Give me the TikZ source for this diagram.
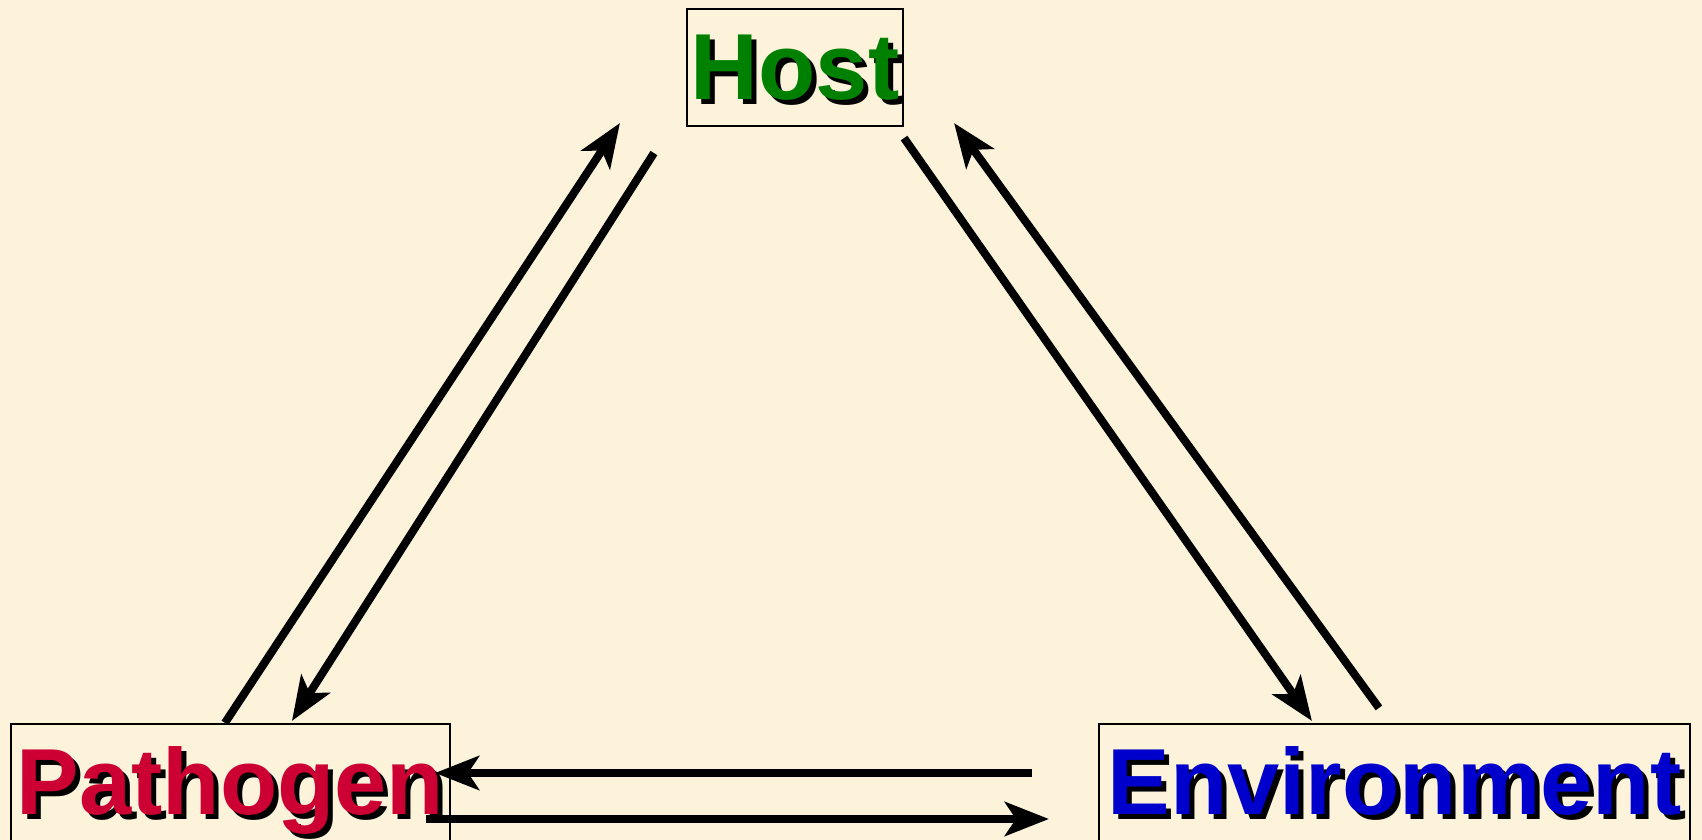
\documentclass[tikz,border=0pt]{standalone}
\usepackage{fontspec}
\setmainfont{Liberation Sans}
\usepackage{tikz}
\usetikzlibrary{calc,arrows.meta}
\definecolor{parchment}{RGB}{252,243,218}
\definecolor{hostgreen}{RGB}{0,128,0}
\definecolor{pathred}{RGB}{204,0,51}
\definecolor{envblue}{RGB}{0,0,204}
\newcommand{\shadowed}[2]{\makebox[0pt][l]{\hspace{0.05cm}\raisebox{-0.05cm}{\color{black}#2}}\textcolor{#1}{#2}}
\tikzset{
	namebox/.style={draw=black, line width=0.6pt, inner xsep=0pt, inner ysep=0.09cm,
		text height=0.82cm, text depth=0.17cm, align=center,
		font=\fontsize{26.7}{30}\selectfont\bfseries},
	flow/.style={line width=2.3pt, -{Stealth[length=0.44cm, width=0.34cm, inset=0.11cm]}}
}

\begin{document}
\begin{tikzpicture}
		%%%%% START %%%%%
		
		\fill[parchment] (0, 0) rectangle (17.02, 8.40);
		\useasboundingbox (0, 0) rectangle (17.02, 8.40);
		
		\node[namebox, minimum width=2.16cm] (host) at (7.95, 7.725) {\shadowed{hostgreen}{Host}};
		\node[namebox, minimum width=4.39cm] (pathogen) at (2.305, 0.575) {\shadowed{pathred}{Pathogen}};
		\node[namebox, minimum width=5.91cm] (environment) at (13.945, 0.575) {\shadowed{envblue}{Environment}};
		
		% host -- pathogen
		\draw[flow] ($(pathogen.north west)+(2.15, 0)$) -- ($(host.south west)+(-0.66, 0.04)$);
		\draw[flow] ($(host.south west)+(-0.32, -0.26)$) -- ($(pathogen.north west)+(2.82, 0.02)$);
		
		% host -- environment
		\draw[flow] ($(host.south east)+(0, -0.11)$) -- ($(environment.north west)+(2.14, 0.02)$);
		\draw[flow] ($(environment.north west)+(2.81, 0.15)$) -- ($(host.south east)+(0.50, 0.04)$);
		
		% pathogen -- environment
		\draw[flow] ($(environment.west)+(-0.66, 0.095)$) -- ($(pathogen.east)+(-0.16, 0.095)$);
		\draw[flow] ($(pathogen.east)+(-0.25, -0.365)$) -- ($(environment.west)+(-0.49, -0.365)$);
		
		%%%%% END %%%%%
	\end{tikzpicture}
\end{document}
